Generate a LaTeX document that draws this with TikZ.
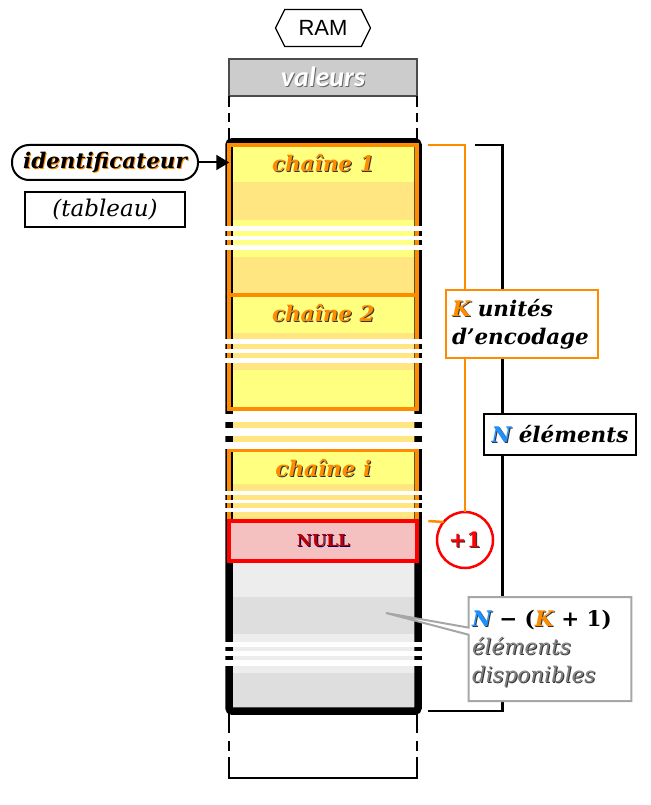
\documentclass[tikz,border=0pt]{standalone}
\usepackage{fontspec}
\setmainfont{DejaVu Serif}
\newfontfamily\sansram{Liberation Sans}
\newfontfamily\sanscal{Carlito}
\usetikzlibrary{arrows.meta,positioning,shapes.symbols,shapes.callouts}

\definecolor{orangeK}{RGB}{255,140,0}
\definecolor{jaune}{RGB}{255,255,128}
\definecolor{jaunef}{RGB}{255,230,128}
\definecolor{rose}{RGB}{245,192,192}
\definecolor{rouge}{RGB}{255,0,0}
\definecolor{grisc}{RGB}{237,237,237}
\definecolor{grisf}{RGB}{222,222,222}
\definecolor{bleuN}{RGB}{30,144,255}

\newcommand{\ombre}[3][black!80]{\makebox[0pt][l]{\hspace{1pt}\raisebox{-1pt}{\color{#1}#3}}{\color{#2}#3}}

\begin{document}
\begin{tikzpicture}[x=1pt,y=-1pt,
    every node/.style={font=\fontsize{21.5}{28}\selectfont\bfseries\itshape,
      align=center,outer sep=0pt},
    chaine/.style={draw=orangeK,line width=4pt,minimum width=188pt,
      anchor=north,inner sep=0pt},
    titre/.style={anchor=north,inner sep=4pt,yshift=-5pt},
    etiquette/.style={draw,fill=white,line width=2.5pt,inner sep=6pt},
    accolade/.style={line width=2.5pt},
    tirets/.style={line width=1.2pt}
  ]
    \useasboundingbox (0,0) rectangle (650,805);

    \foreach \ya/\yb/\teinte in {143/182/jaune,182/220/jaunef,220/257/jaune,
        257/295/jaunef,295/333/jaune,333/370/jaunef,370/411/jaune,
        422/428/jaunef,436/442/jaunef,450/484/jaune,484/522/jaunef,
        562/597/grisc,597/634/grisf,634/673/grisc,673/711/grisf}
      \fill[\teinte] (229,\ya) rectangle (418,\yb);
    \draw[line width=7.5pt,rounded corners=3pt] (229,142) rectangle (418,711);
    \coordinate (basdroit) at (418,711);

    \node[chaine,minimum height=150pt,
      label={[titre]north:{\ombre{orangeK}{chaîne 1}}}] (chaine1) at (323.3,145) {};
    \node[chaine,minimum height=114pt,
      label={[titre]north:{\ombre{orangeK}{chaîne 2}}}] (chaine2) at (323.3,295) {};
    \node[chaine,minimum height=72pt,
      label={[titre]north:{\ombre{orangeK}{chaîne i}}}] (chainei) at (323.3,450) {};
    \node[draw=rouge,fill=rose,line width=4pt,minimum width=188pt,
      minimum height=40pt,anchor=north,font=\fontsize{16.5}{19}\selectfont\bfseries]
      (null) at (323.3,521) {\ombre[blue!40!black]{red!75!black}{NULL}};

    \foreach \ya/\yb in {226/231,236/240,245/250,339/344,349/353,358/363,
        414/422,428/436,442/449,491/495,500/503,508/512,642/647,651/656,660/666}
      \fill[white] (222,\ya) rectangle (425,\yb);

    \node[draw=black!70,fill=black!20,line width=1.2pt,minimum width=188pt,
      minimum height=37pt,font=\sanscal\fontsize{28}{30}\selectfont\bfseries\itshape]
      (valeurs) at (323,77.5) {\ombre[black!60]{white}{valeurs}};
    \node[signal,signal to=east and west,signal pointer angle=127,draw,
      line width=1.3pt,minimum width=95pt,minimum height=37pt,inner sep=0pt,
      font=\sansram\fontsize{22}{26}\selectfont] (ram) at (323,28) {RAM};

    \foreach \x in {229,417}{
      \draw[tirets,dash pattern=on 11pt off 6pt on 9pt off 6pt on 30pt]
        (\x,96) -- (\x,142);
      \draw[tirets,dash pattern=on 22pt off 8pt on 10pt off 6pt on 40pt]
        (\x,711) -- (\x,778);
    }
    \draw[tirets] (228.4,778) -- (417.6,778);

    \node[draw,line width=2pt,rounded corners=17pt,minimum width=186pt,
      minimum height=35pt,inner sep=0pt] (identificateur) at (105,162.5)
      {\ombre[orangeK]{black}{identificateur}};
    \node[draw,line width=1.2pt,minimum width=160pt,minimum height=35pt,
      font=\fontsize{23}{26}\selectfont\itshape,below=12pt of identificateur]
      (tableau) {(tableau)};
    \draw[-{Triangle[length=13pt,width=15pt]},line width=2pt]
      (identificateur) -- (chaine1.west |- identificateur);

    \node[circle,draw=rouge,fill=white,line width=2.5pt,minimum size=56pt,
      inner sep=0pt,font=\fontsize{21}{24}\selectfont\bfseries]
      (plusun) at (465,540) {\ombre{rouge}{+1}};
    \draw[accolade,orangeK] ([xshift=11pt]chaine1.north east) -| (plusun.north);
    \draw[accolade,orangeK] ([xshift=11pt]null.north east) -- (plusun.140);
    \draw[accolade] ([xshift=58pt]chaine1.north east) -- ++(27,0)
      |- ([xshift=10pt]basdroit);

    \node[etiquette,draw=orangeK,align=left,text width=140pt,
      minimum height=68pt] (unites) at (522,324)
      {\ombre{orangeK}{K} unités\\d’encodage};
    \node[etiquette,minimum width=152pt,minimum height=41pt] (elements)
      at (560,434.5) {\ombre{bleuN}{N} éléments};
    \node[rectangle callout,draw=black!35,fill=white,line width=2pt,
      callout absolute pointer={(386,613)},align=left,text width=156pt,
      minimum height=104pt,font=\fontsize{21.5}{28}\selectfont] (disponibles)
      at (550,649) {\textbf{\ombre{bleuN}{\textit{N}} − (\ombre{orangeK}{\textit{K}} + 1)}\\
      \ombre{black!50}{\textit{éléments}}\\\ombre{black!50}{\textit{disponibles}}};
\end{tikzpicture}
\end{document}
